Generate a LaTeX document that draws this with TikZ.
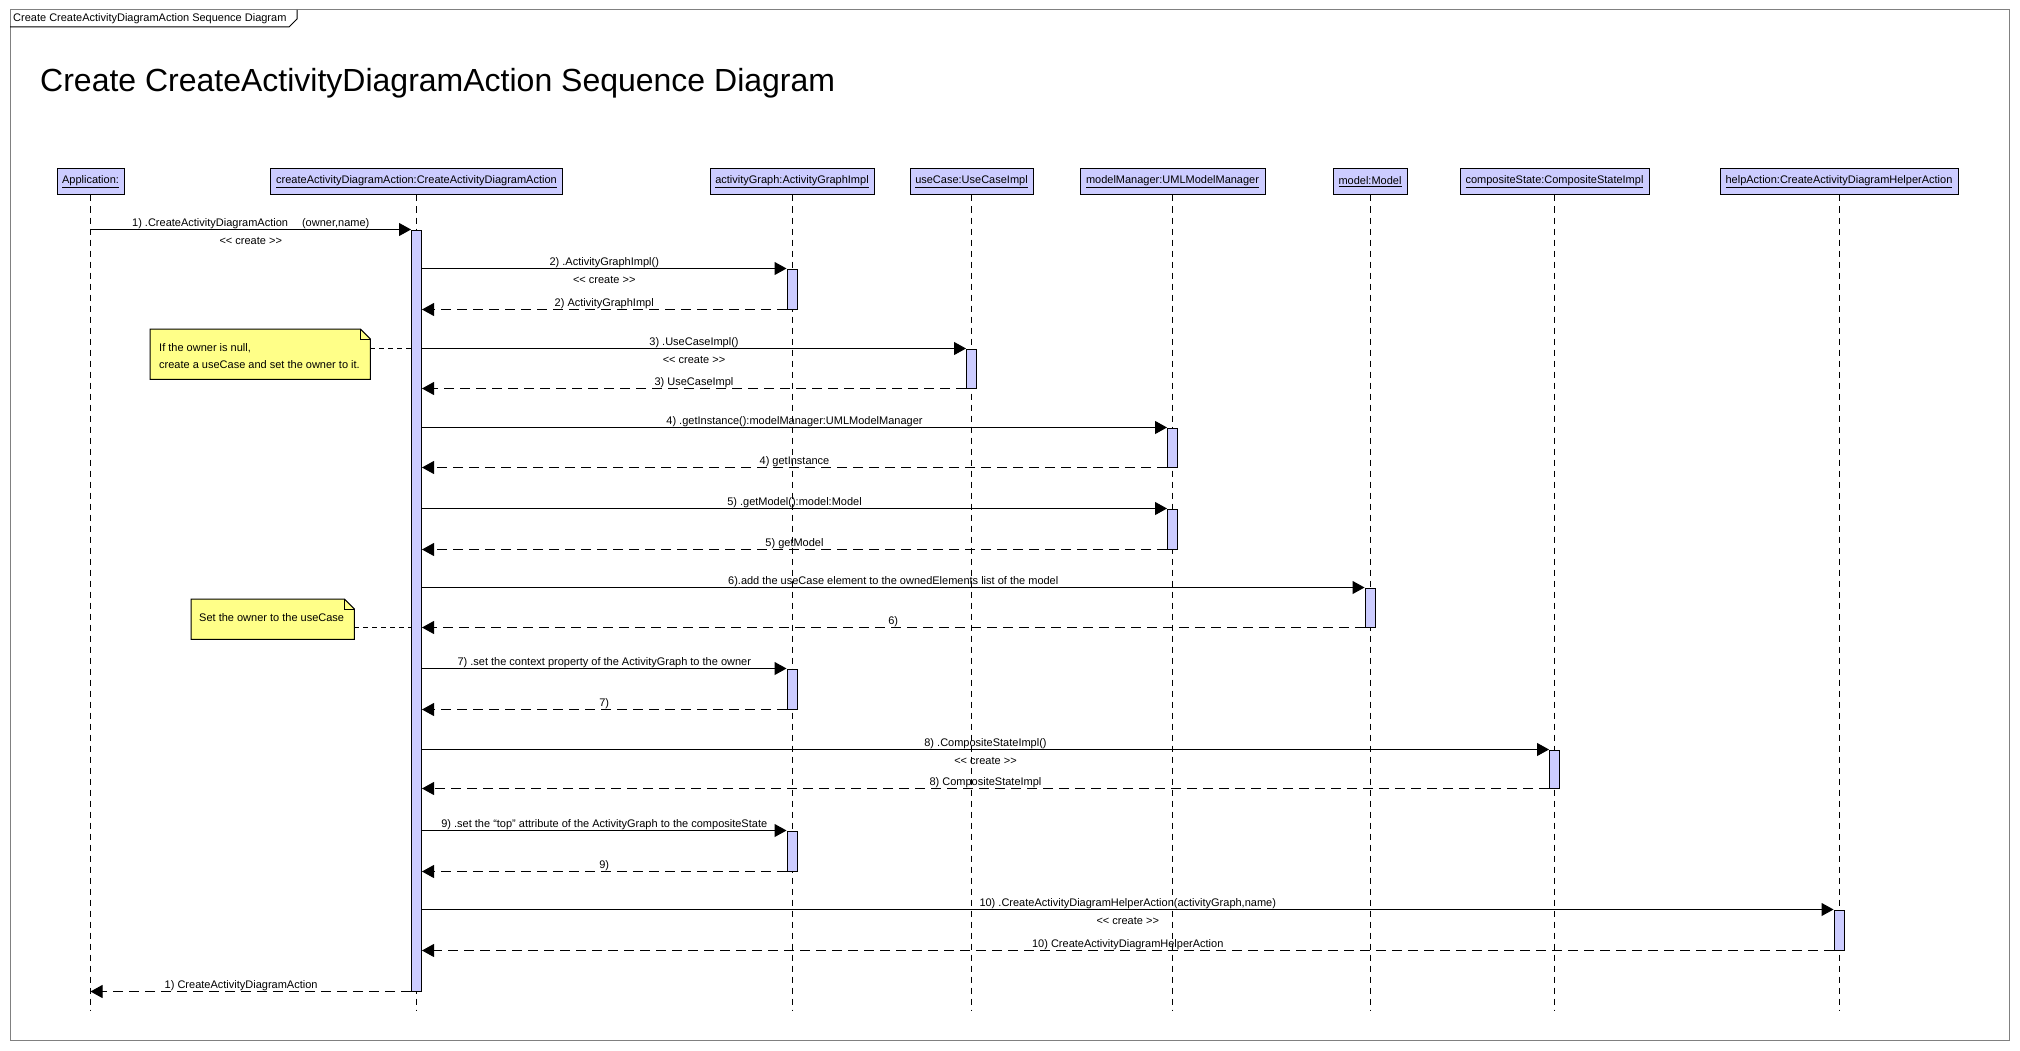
\documentclass[tikz,border=0pt]{standalone}
\usepackage{fontspec}
\setmainfont{Liberation Sans}
\usetikzlibrary{arrows.meta}
\definecolor{lav}{RGB}{204,204,255}
\definecolor{notey}{RGB}{255,255,136}
\definecolor{framegray}{RGB}{128,128,128}
\begin{document}
\begin{tikzpicture}[x=1pt,y=-1pt,
  every node/.style={font=\fontsize{11}{13}\selectfont},
  head/.style={draw=black, fill=lav, line width=1pt, minimum height=26pt, inner sep=0pt},
  life/.style={line width=1pt, dash pattern=on 6pt off 5pt},
  bar/.style={draw=black, fill=lav, line width=1pt, minimum width=10pt, inner sep=0pt},
  msg/.style={line width=1pt, -{Triangle[length=12pt,width=13pt]}},
  ret/.style={msg, dash pattern=on 10pt off 6pt},
  lab/.style={anchor=base, inner sep=0pt, yshift=3pt},
  labb/.style={anchor=base, inner sep=0pt, yshift=-14.5pt},
  notebg/.style={fill=notey, draw=black, line width=1pt},
  notetxt/.style={anchor=west, align=left, inner sep=0pt, font=\fontsize{11}{17}\selectfont},
  noteline/.style={line width=1pt, dash pattern=on 5pt off 4pt}
]
\fill[white] (0,0) rectangle (2020,1051);
\useasboundingbox (0,0) rectangle (2020,1051);
% frame and tab
\draw[framegray, line width=1pt] (10,10) rectangle (2009,1040);
\draw[line width=1pt] (10,27) -- (289,27) -- (297,19) -- (297,10);
\node[anchor=west, inner sep=0pt] (tab) at (13,19) {Create CreateActivityDiagramAction Sequence Diagram};
\node[anchor=base west, inner sep=0pt, font=\fontsize{32}{38}\selectfont] (title) at (40,92) {Create CreateActivityDiagramAction Sequence Diagram};
% heads
\node[head, minimum width=67pt]  (app) at (90.5,182) {\underline{Application:}};
\node[head, minimum width=292pt] (cada) at (416.5,182) {\underline{createActivityDiagramAction:CreateActivityDiagramAction}};
\node[head, minimum width=164pt] (ag) at (792,182) {\underline{activityGraph:ActivityGraphImpl}};
\node[head, minimum width=123pt] (uc) at (971.5,182) {\underline{useCase:UseCaseImpl}};
\node[head, minimum width=185pt] (mm) at (1172.5,182) {\underline{modelManager:UMLModelManager}};
\node[head, minimum width=74pt]  (md) at (1370,182) {\underline{model:Model}};
\node[head, minimum width=189pt] (cs) at (1554.5,182) {\underline{compositeState:CompositeStateImpl}};
\node[head, minimum width=238pt] (hp) at (1839,182) {\underline{helpAction:CreateActivityDiagramHelperAction}};
% lifelines
\coordinate (lend) at (0,1011);
\foreach \n in {app,cada,ag,uc,mm,md,cs,hp}
  \draw[life] (\n.south) -- (\n.south |- lend);
% activation bars
\node[bar, minimum height=761pt] (main) at (416.5,610.5) {};
\node[bar, minimum height=40pt] (ag1) at (792,289) {};
\node[bar, minimum height=39pt] (uc1) at (971.5,368.5) {};
\node[bar, minimum height=39pt] (mm1) at (1172.5,447.5) {};
\node[bar, minimum height=40pt] (mm2) at (1172.5,529) {};
\node[bar, minimum height=39pt] (md1) at (1370,607.5) {};
\node[bar, minimum height=40pt] (ag2) at (792,689) {};
\node[bar, minimum height=38pt] (cs1) at (1554.5,769) {};
\node[bar, minimum height=40pt] (ag3) at (792,851) {};
\node[bar, minimum height=40pt] (hp1) at (1839,930) {};
% messages
\draw[msg] (app.south |- main.north) -- (main.north west)
  node[lab, midway] {1) .CreateActivityDiagramAction\quad\ (owner,name)}
  node[labb, midway] {<{}< create >{}>};
\draw[ret] (main.south west) -- (app.south |- main.south)
  node[lab, pos=0.53] {1) CreateActivityDiagramAction};
\draw[msg] (main.east |- ag1.north) -- (ag1.north west)
  node[lab, midway] {2) .ActivityGraphImpl()}
  node[labb, midway] {<{}< create >{}>};
\draw[ret] (ag1.south west) -- (main.east |- ag1.south)
  node[lab, midway] {2) ActivityGraphImpl};
\draw[msg] (main.east |- uc1.north) -- (uc1.north west)
  node[lab, midway] {3) .UseCaseImpl()}
  node[labb, midway] {<{}< create >{}>};
\draw[ret] (uc1.south west) -- (main.east |- uc1.south)
  node[lab, midway] {3) UseCaseImpl};
\draw[msg] (main.east |- mm1.north) -- (mm1.north west)
  node[lab, midway] {4) .getInstance():modelManager:UMLModelManager};
\draw[ret] (mm1.south west) -- (main.east |- mm1.south)
  node[lab, midway] {4) getInstance};
\draw[msg] (main.east |- mm2.north) -- (mm2.north west)
  node[lab, midway] {5) .getModel():model:Model};
\draw[ret] (mm2.south west) -- (main.east |- mm2.south)
  node[lab, midway] {5) getModel};
\draw[msg] (main.east |- md1.north) -- (md1.north west)
  node[lab, midway] {6).add the useCase element to the ownedElements list of the model};
\draw[ret] (md1.south west) -- (main.east |- md1.south)
  node[lab, midway] {6)};
\draw[msg] (main.east |- ag2.north) -- (ag2.north west)
  node[lab, midway] {7) .set the context property of the ActivityGraph to the owner};
\draw[ret] (ag2.south west) -- (main.east |- ag2.south)
  node[lab, midway] {7)};
\draw[msg] (main.east |- cs1.north) -- (cs1.north west)
  node[lab, midway] {8) .CompositeStateImpl()}
  node[labb, midway] {<{}< create >{}>};
\draw[ret] (cs1.south west) -- (main.east |- cs1.south)
  node[lab, midway] {8) CompositeStateImpl};
\draw[msg] (main.east |- ag3.north) -- (ag3.north west)
  node[lab, midway] {9) .set the “top” attribute of the ActivityGraph to the compositeState};
\draw[ret] (ag3.south west) -- (main.east |- ag3.south)
  node[lab, midway] {9)};
\draw[msg] (main.east |- hp1.north) -- (hp1.north west)
  node[lab, midway] {10) .CreateActivityDiagramHelperAction(activityGraph,name)}
  node[labb, midway] {<{}< create >{}>};
\draw[ret] (hp1.south west) -- (main.east |- hp1.south)
  node[lab, midway] {10) CreateActivityDiagramHelperAction};
% note 1
\node[anchor=north west, minimum width=220pt, minimum height=50pt, inner sep=0pt] (n1) at (150,329) {};
\path[notebg] (n1.north west) -- ([xshift=-10pt]n1.north east) -- ([yshift=-10pt]n1.north east) -- (n1.south east) -- (n1.south west) -- cycle;
\draw[line width=1pt] ([xshift=-10pt]n1.north east) -- ([xshift=-10pt,yshift=-10pt]n1.north east) -- ([yshift=-10pt]n1.north east);
\node[notetxt] (n1t) at (159,356) {If the owner is null,\\create a useCase and set the owner to it.};
\coordinate (n1c) at ([yshift=-19pt]n1.north east);
\draw[noteline] (n1c) -- (n1c -| main.west);
% note 2
\node[anchor=north west, minimum width=163pt, minimum height=40pt, inner sep=0pt] (n2) at (191,599) {};
\path[notebg] (n2.north west) -- ([xshift=-10pt]n2.north east) -- ([yshift=-10pt]n2.north east) -- (n2.south east) -- (n2.south west) -- cycle;
\draw[line width=1pt] ([xshift=-10pt]n2.north east) -- ([xshift=-10pt,yshift=-10pt]n2.north east) -- ([yshift=-10pt]n2.north east);
\node[notetxt] (n2t) at (199,618) {Set the owner to the useCase};
\coordinate (n2c) at ([yshift=-28pt]n2.north east);
\draw[noteline] (n2c) -- (n2c -| main.west);
\end{tikzpicture}
\end{document}
